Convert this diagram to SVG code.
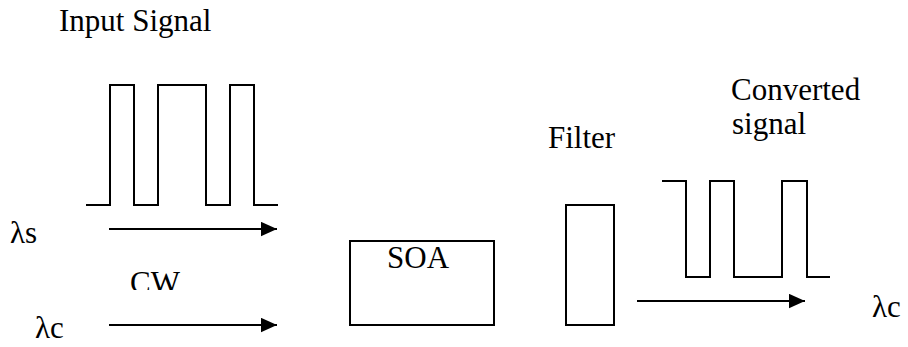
<svg xmlns="http://www.w3.org/2000/svg" width="908" height="347" viewBox="0 0 908 347">
  <style>
    .lbl { font-family: "Liberation Serif", "Times New Roman", Tinos, "DejaVu Serif", serif; font-size: 31px; fill: #000; }
    .wire { fill: none; stroke: #000; stroke-width: 2; }
    .box { fill: #fff; stroke: #000; stroke-width: 2; }
  </style>
  <defs>
    <marker id="arrowhead" markerWidth="10" markerHeight="10" refX="8" refY="3.6" orient="auto" markerUnits="strokeWidth">
      <path d="M0,0 L8,3.6 L0,7.2 Z" fill="#000"/>
    </marker>
    <clipPath id="cw-clip">
      <rect x="100" y="250" width="120" height="40"/>
    </clipPath>
  </defs>
  <rect width="908" height="347" fill="#fff"/>

  <!-- input pulse train on the signal wavelength -->
  <g id="input-signal">
    <text class="lbl" x="59" y="31">Input Signal</text>
    <path class="wire" d="M86,205 H110 V85 H134 V205 H158 V85 H206 V205 H230 V85 H254 V205 H278"/>
    <text class="lbl" x="10" y="243">λs</text>
  </g>

  <!-- continuous-wave probe -->
  <g id="cw-probe">
    <text class="lbl" x="130" y="293" clip-path="url(#cw-clip)">CW</text>
    <text class="lbl" x="35" y="338">λc</text>
  </g>

  <!-- semiconductor optical amplifier -->
  <g id="soa">
    <rect class="box" x="350" y="241" width="144" height="84"/>
    <text class="lbl" x="387" y="268">SOA</text>
  </g>

  <!-- band-pass filter -->
  <g id="filter">
    <text class="lbl" x="548" y="148">Filter</text>
    <rect class="box" x="566" y="205" width="48" height="120"/>
  </g>

  <!-- inverted output pulse train on the probe wavelength -->
  <g id="converted-signal">
    <text class="lbl" x="731" y="100">Converted</text>
    <text class="lbl" x="732" y="134">signal</text>
    <path class="wire" d="M662,181 H686 V277 H710 V181 H734 V277 H782 V181 H807 V277 H830"/>
    <text class="lbl" x="872" y="317">λc</text>
  </g>

  <g id="connectors">
    <line class="wire" x1="109" y1="229" x2="277" y2="229" marker-end="url(#arrowhead)"/>
    <line class="wire" x1="109" y1="325" x2="277" y2="325" marker-end="url(#arrowhead)"/>
    <line class="wire" x1="637" y1="301" x2="805" y2="301" marker-end="url(#arrowhead)"/>
  </g>
</svg>
